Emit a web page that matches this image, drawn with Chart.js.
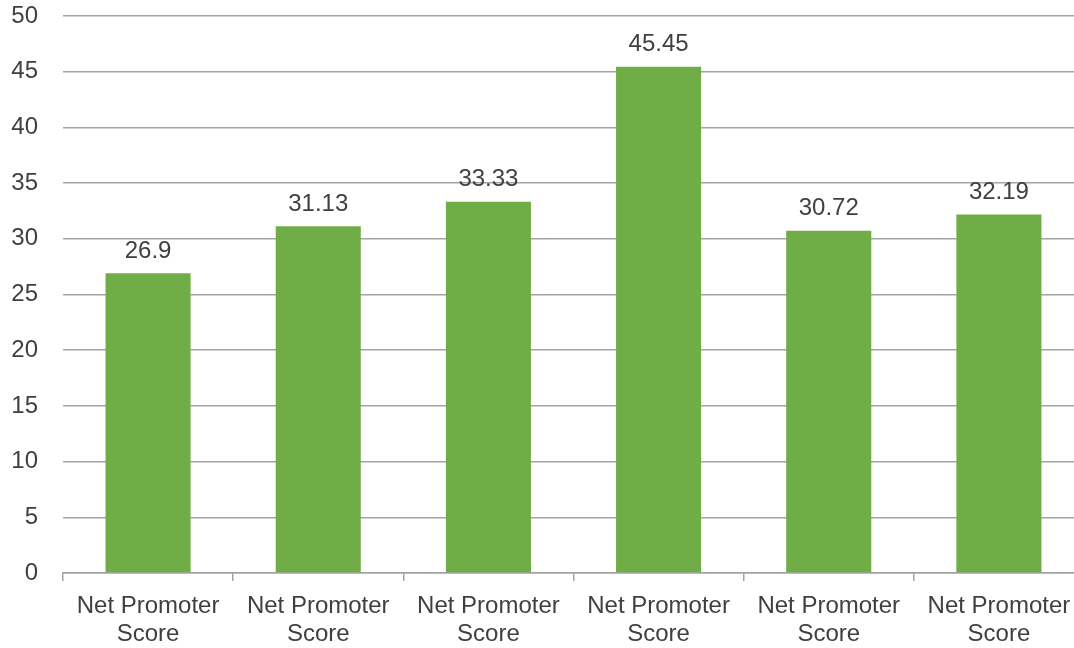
<!DOCTYPE html>
<html>
<head>
<meta charset="utf-8">
<script src="https://cdn.jsdelivr.net/npm/chart.js@4/dist/chart.umd.min.js"></script>
<style>
  html, body { margin: 0; padding: 0; background: #ffffff; overflow: hidden; width: 1074px; height: 648px; }
  canvas { display: block; }
</style>
</head>
<body>
<canvas id="c" width="1084" height="648"></canvas>
<script>
const categories = [
  ["Net Promoter", "Score"],
  ["Net Promoter", "Score"],
  ["Net Promoter", "Score"],
  ["Net Promoter", "Score"],
  ["Net Promoter", "Score"],
  ["Net Promoter", "Score"]
];
const npsValues = [26.9, 31.13, 33.33, 45.45, 30.72, 32.19];
const yTicks = [0, 5, 10, 15, 20, 25, 30, 35, 40, 45, 50];

const FONT = "'Liberation Sans', Arial, sans-serif";
const TEXT = "#404040";
const GRID = "#a3a3a3";

const valueLabels = {
  id: 'valueLabels',
  afterDatasetsDraw(chart) {
    const ctx = chart.ctx;
    const meta = chart.getDatasetMeta(0);
    ctx.save();
    ctx.font = "24px " + FONT;
    ctx.fillStyle = TEXT;
    ctx.textAlign = 'center';
    ctx.textBaseline = 'middle';
    meta.data.forEach((bar, i) => {
      ctx.fillText(String(npsValues[i]), bar.x, bar.y - 22);
    });
    ctx.restore();
  }
};

new Chart(document.getElementById('c'), {
  type: 'bar',
  data: {
    labels: categories,
    datasets: [{
      data: npsValues,
      backgroundColor: '#70ad47',
      borderWidth: 0,
      barPercentage: 0.5,
      categoryPercentage: 1.0
    }]
  },
  options: {
    responsive: false,
    animation: false,
    devicePixelRatio: 1,
    layout: { padding: { top: 16, right: 0, bottom: 0, left: 0 } },
    plugins: { legend: { display: false }, tooltip: { enabled: false } },
    scales: {
      x: {
        offset: true,
        grid: {
          offset: true,
          drawOnChartArea: false,
          drawTicks: true,
          tickLength: 8,
          color: GRID,
          lineWidth: 1.5
        },
        border: { display: true, color: GRID, width: 1.5 },
        ticks: {
          color: TEXT,
          font: { family: FONT, size: 24, lineHeight: 1.1667 },
          padding: 11,
          maxRotation: 0,
          autoSkip: false
        },
        afterFit(scale) { scale.height = 75; }
      },
      y: {
        min: 0,
        max: 50,
        afterBuildTicks(scale) { scale.ticks = yTicks.map(v => ({ value: v })); },
        grid: {
          drawTicks: true,
          tickLength: 25,
          tickColor: 'rgba(0,0,0,0)',
          color: GRID,
          lineWidth: 1.5
        },
        border: { display: false },
        ticks: {
          color: TEXT,
          font: { family: FONT, size: 24 },
          padding: 0
        },
        afterFit(scale) { scale.width = 63; }
      }
    }
  },
  plugins: [valueLabels]
});
</script>
</body>
</html>
